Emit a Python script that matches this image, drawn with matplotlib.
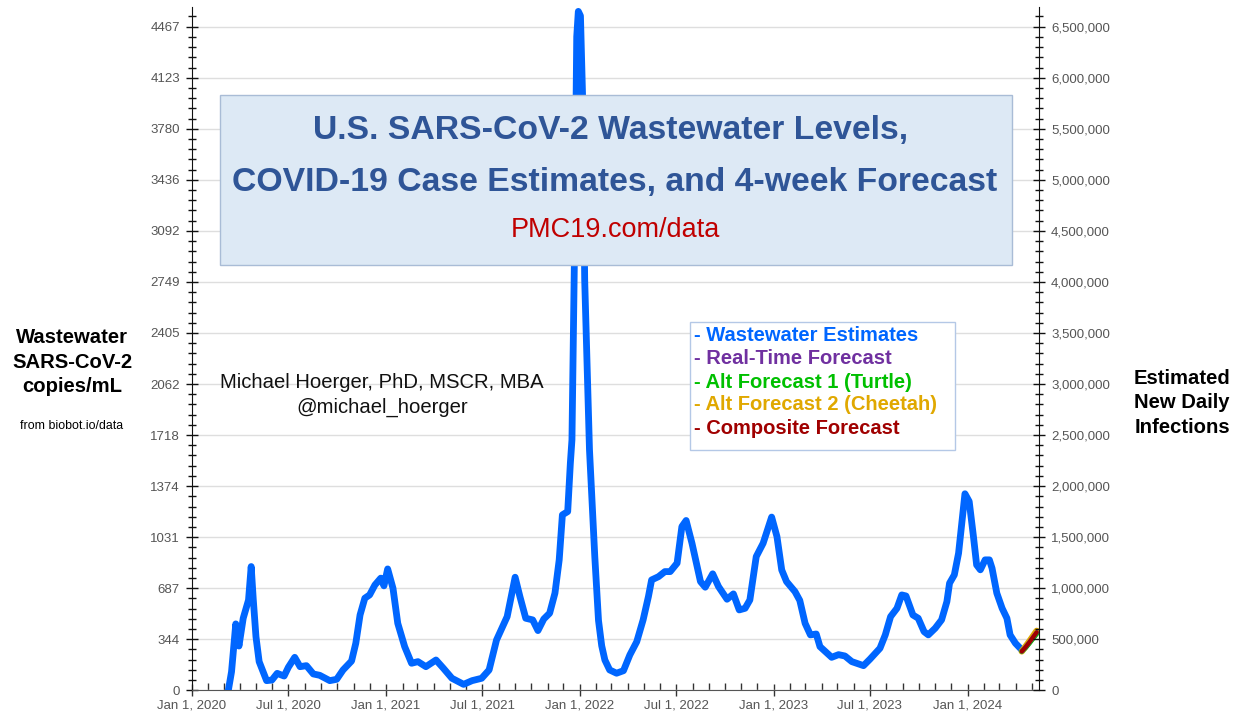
import matplotlib
matplotlib.use("Agg")
import matplotlib.pyplot as plt
import matplotlib.dates as mdates
from matplotlib.patches import Rectangle
from matplotlib.ticker import FixedLocator, MultipleLocator, FuncFormatter
import pandas as pd
import numpy as np

# ---------------- data ----------------
ww_dates = [
    "2020-03-10", "2020-03-16", "2020-03-24", "2020-03-30", "2020-04-07", "2020-04-17",
    "2020-04-22", "2020-04-26", "2020-05-01", "2020-05-07", "2020-05-21", "2020-05-31",
    "2020-06-10", "2020-06-23", "2020-07-01", "2020-07-13", "2020-07-23", "2020-08-04",
    "2020-08-17", "2020-08-29", "2020-09-17", "2020-09-30", "2020-10-12", "2020-10-28",
    "2020-11-05", "2020-11-13", "2020-11-22", "2020-12-01", "2020-12-11", "2020-12-22",
    "2020-12-28", "2021-01-04", "2021-01-14", "2021-01-23", "2021-02-05", "2021-02-18",
    "2021-03-02", "2021-03-17", "2021-04-05", "2021-04-19", "2021-05-05", "2021-05-27",
    "2021-06-12", "2021-06-30", "2021-07-14", "2021-07-28", "2021-08-07", "2021-08-17",
    "2021-09-01", "2021-09-10", "2021-09-21", "2021-10-04", "2021-10-14", "2021-10-25",
    "2021-11-05", "2021-11-15", "2021-11-23", "2021-11-29", "2021-12-09", "2021-12-14",
    "2021-12-17", "2021-12-22", "2021-12-26", "2021-12-29", "2022-01-02", "2022-01-06",
    "2022-01-10", "2022-01-19", "2022-01-29", "2022-02-05", "2022-02-11", "2022-02-17",
    "2022-02-26", "2022-03-11", "2022-03-24", "2022-04-05", "2022-04-18", "2022-04-30",
    "2022-05-10", "2022-05-16", "2022-05-29", "2022-06-10", "2022-06-20", "2022-07-03",
    "2022-07-12", "2022-07-20", "2022-07-31", "2022-08-16", "2022-08-25", "2022-09-08",
    "2022-09-19", "2022-10-05", "2022-10-17", "2022-10-28", "2022-11-08", "2022-11-17",
    "2022-11-29", "2022-12-12", "2022-12-28", "2023-01-07", "2023-01-16", "2023-01-25",
    "2023-02-10", "2023-02-19", "2023-03-01", "2023-03-11", "2023-03-22", "2023-03-29",
    "2023-04-20", "2023-05-03", "2023-05-15", "2023-05-28", "2023-06-19", "2023-07-01",
    "2023-07-20", "2023-07-30", "2023-08-09", "2023-08-21", "2023-08-30", "2023-09-07",
    "2023-09-20", "2023-09-30", "2023-10-11", "2023-10-19", "2023-11-01", "2023-11-13",
    "2023-11-23", "2023-11-28", "2023-12-07", "2023-12-15", "2023-12-21", "2023-12-27",
    "2024-01-04", "2024-01-12", "2024-01-18", "2024-01-25", "2024-02-03", "2024-02-11",
    "2024-02-16", "2024-02-25", "2024-03-06", "2024-03-15", "2024-03-21", "2024-03-31",
    "2024-04-12",
]
ww_values = [
    0, 125, 447, 298, 485, 608,
    833, 608, 361, 193, 65, 69,
    114, 96, 155, 222, 159, 166,
    110, 101, 65, 74, 137, 197,
    317, 507, 620, 642, 709, 755,
    703, 817, 687, 451, 294, 182,
    193, 159, 204, 148, 81, 40,
    65, 81, 137, 339, 418, 496,
    761, 631, 485, 474, 402, 480,
    519, 654, 878, 1181, 1203, 1529,
    1686, 3000, 4400, 4570, 4540, 4000,
    2760, 1620, 900, 470, 300, 204,
    137, 115, 132, 238, 327, 474,
    631, 743, 765, 799, 799, 856,
    1102, 1143, 990, 732, 694, 784,
    698, 613, 649, 541, 552, 608,
    900, 990, 1166, 1035, 810, 732,
    664, 605, 451, 373, 379, 294,
    222, 240, 231, 193, 166, 209,
    283, 373, 496, 552, 642, 635,
    507, 485, 395, 373, 418, 474,
    597, 721, 777, 923, 1125, 1323,
    1271, 1035, 844, 811, 878, 878,
    822, 654, 552, 485, 373, 317,
    272,
]

fc_dates = ["2024-04-12", "2024-04-19", "2024-04-26", "2024-05-03", "2024-05-10"]
fc_realtime = [262, 290, 322, 356, 390]
fc_turtle = [262, 286, 316, 348, 380]
fc_cheetah = [262, 294, 328, 364, 400]
fc_composite = [262, 290, 322, 356, 390]

left_tick_labels = ["0", "344", "687", "1031", "1374", "1718", "2062", "2405",
                    "2749", "3092", "3436", "3780", "4123", "4467"]
copies_per_step = 343.6          # one left-axis step
infections_per_step = 500000     # matching right-axis step
x_tick_dates = ["2020-01-01", "2020-07-01", "2021-01-01", "2021-07-01", "2022-01-01",
                "2022-07-01", "2023-01-01", "2023-07-01", "2024-01-01"]
x_tick_labels = ["Jan 1, 2020", "Jul 1, 2020", "Jan 1, 2021", "Jul 1, 2021", "Jan 1, 2022",
                 "Jul 1, 2022", "Jan 1, 2023", "Jul 1, 2023", "Jan 1, 2024"]

legend_items = ["- Wastewater Estimates", "- Real-Time Forecast", "- Alt Forecast 1 (Turtle)",
                "- Alt Forecast 2 (Cheetah)", "- Composite Forecast"]

# ---------------- styling ----------------
FONT = "Liberation Sans"
plt.rcParams["font.family"] = [FONT, "DejaVu Sans"]
BLUE = "#0066FF"
PURPLE = "#7030A0"
GREEN = "#00C000"
GOLD = "#E0A800"
DARKRED = "#A00000"
TICKGRAY = "#555555"

W, H = 1253, 716
fig = plt.figure(figsize=(W / 100, H / 100), dpi=100)
ax = fig.add_axes([191.7 / W, 1 - 690.3 / H, (1039.3 - 191.7) / W, (690.3 - 7) / H])

ymax = copies_per_step * 13 * (683.3 / 663.6)
ratio = infections_per_step / copies_per_step

d_ww = pd.to_datetime(ww_dates)
d_fc = pd.to_datetime(fc_dates)

ax.plot(d_ww, ww_values, color=BLUE, lw=4.9, solid_joinstyle="round",
        solid_capstyle="round", zorder=3)
ax.plot(d_fc, fc_cheetah, color=GOLD, lw=4.6, solid_capstyle="round", zorder=4)
ax.plot(d_fc, fc_turtle, color=GREEN, lw=3.6, solid_capstyle="round", zorder=5)
ax.plot(d_fc, fc_realtime, color=PURPLE, lw=3.2, solid_capstyle="round", zorder=6)
ax.plot(d_fc, fc_composite, color=DARKRED, lw=3.0, solid_capstyle="round", zorder=7)

ax.set_xlim(pd.Timestamp("2020-01-01"), pd.Timestamp("2024-05-15"))
ax.set_ylim(0, ymax)

# left y axis
ax.yaxis.set_major_locator(FixedLocator([copies_per_step * i for i in range(len(left_tick_labels))]))
ax.set_yticklabels(left_tick_labels)
ax.yaxis.set_minor_locator(MultipleLocator(copies_per_step / 5))
ax.grid(axis="y", which="major", color="#dedede", lw=1.0)
ax.set_axisbelow(True)

# x axis
ax.set_xticks(pd.to_datetime(x_tick_dates))
ax.set_xticklabels(x_tick_labels)
ax.xaxis.set_minor_locator(mdates.MonthLocator())

ax.tick_params(axis="x", which="major", direction="inout", length=9, width=1,
               color="#333333", labelsize=9.5, labelcolor=TICKGRAY, pad=2)
ax.tick_params(axis="x", which="minor", direction="in", length=5, width=1, color="#333333")
ax.tick_params(axis="y", which="major", direction="inout", length=9, width=1,
               color="#111111", labelsize=9.5, labelcolor=TICKGRAY, pad=4)
ax.tick_params(axis="y", which="minor", direction="inout", length=6, width=1, color="#111111")

ax.spines["top"].set_visible(False)
ax.spines["left"].set_color("#111111")
ax.spines["bottom"].set_color("#555555")
ax.spines["right"].set_visible(False)

# right y axis
ax2 = ax.twinx()
ax2.set_ylim(0, ymax * ratio)
ax2.yaxis.set_major_locator(MultipleLocator(infections_per_step))
ax2.yaxis.set_minor_locator(MultipleLocator(infections_per_step / 5))
ax2.yaxis.set_major_formatter(FuncFormatter(lambda v, p: f"{int(round(v)):,}"))
ax2.tick_params(axis="y", which="major", direction="inout", length=9, width=1,
                color="#111111", labelsize=9.5, labelcolor=TICKGRAY, pad=4)
ax2.tick_params(axis="y", which="minor", direction="inout", length=6, width=1, color="#111111")
for s in ["top", "left", "bottom"]:
    ax2.spines[s].set_visible(False)
ax2.spines["right"].set_color("#111111")


def fx(px):
    return px / W


def fy(py):
    return 1 - py / H


# title box
fig.patches.append(Rectangle((fx(220), fy(265)), (1012 - 220) / W, (265 - 95) / H,
                             transform=fig.transFigure, facecolor="#dde9f5",
                             edgecolor="#a9bcd6", lw=1.0, zorder=5))
fig.text(fx(611), fy(131), "U.S. SARS-CoV-2 Wastewater Levels,", ha="center", va="center",
         fontsize=24.3, fontweight="bold", color="#2F5597", zorder=6)
fig.text(fx(615), fy(182), "COVID-19 Case Estimates, and 4-week Forecast", ha="center",
         va="center", fontsize=24.3, fontweight="bold", color="#2F5597", zorder=6)
fig.text(fx(615), fy(230), "PMC19.com/data", ha="center", va="center",
         fontsize=19.5, color="#C00000", zorder=6)

# legend box
fig.patches.append(Rectangle((fx(690), fy(450)), (955 - 690) / W, (450 - 322) / H,
                             transform=fig.transFigure, facecolor="white",
                             edgecolor="#b4c8e6", lw=1.0, zorder=5))
leg_colors = [BLUE, PURPLE, GREEN, GOLD, DARKRED]
for i, (t, c) in enumerate(zip(legend_items, leg_colors)):
    fig.text(fx(694), fy(336 + 23 * i), t, ha="left", va="center", fontsize=14.5,
             fontweight="bold", color=c, zorder=6)

# author
fig.text(fx(382), fy(383), "Michael Hoerger, PhD, MSCR, MBA", ha="center", va="center",
         fontsize=14.6, color="#111111")
fig.text(fx(382), fy(407), "@michael_hoerger", ha="center", va="center",
         fontsize=14.6, color="#111111")

# axis titles
fig.text(fx(72), fy(362), "Wastewater\nSARS-CoV-2\ncopies/mL", ha="center", va="center",
         fontsize=14.6, fontweight="bold", color="black", linespacing=1.35)
fig.text(fx(72), fy(426), "from biobot.io/data", ha="center", va="center",
         fontsize=8.9, color="black")
fig.text(fx(1182), fy(403), "Estimated\nNew Daily\nInfections", ha="center", va="center",
         fontsize=14.6, fontweight="bold", color="black", linespacing=1.35)

fig.savefig("out.png", dpi=100)
